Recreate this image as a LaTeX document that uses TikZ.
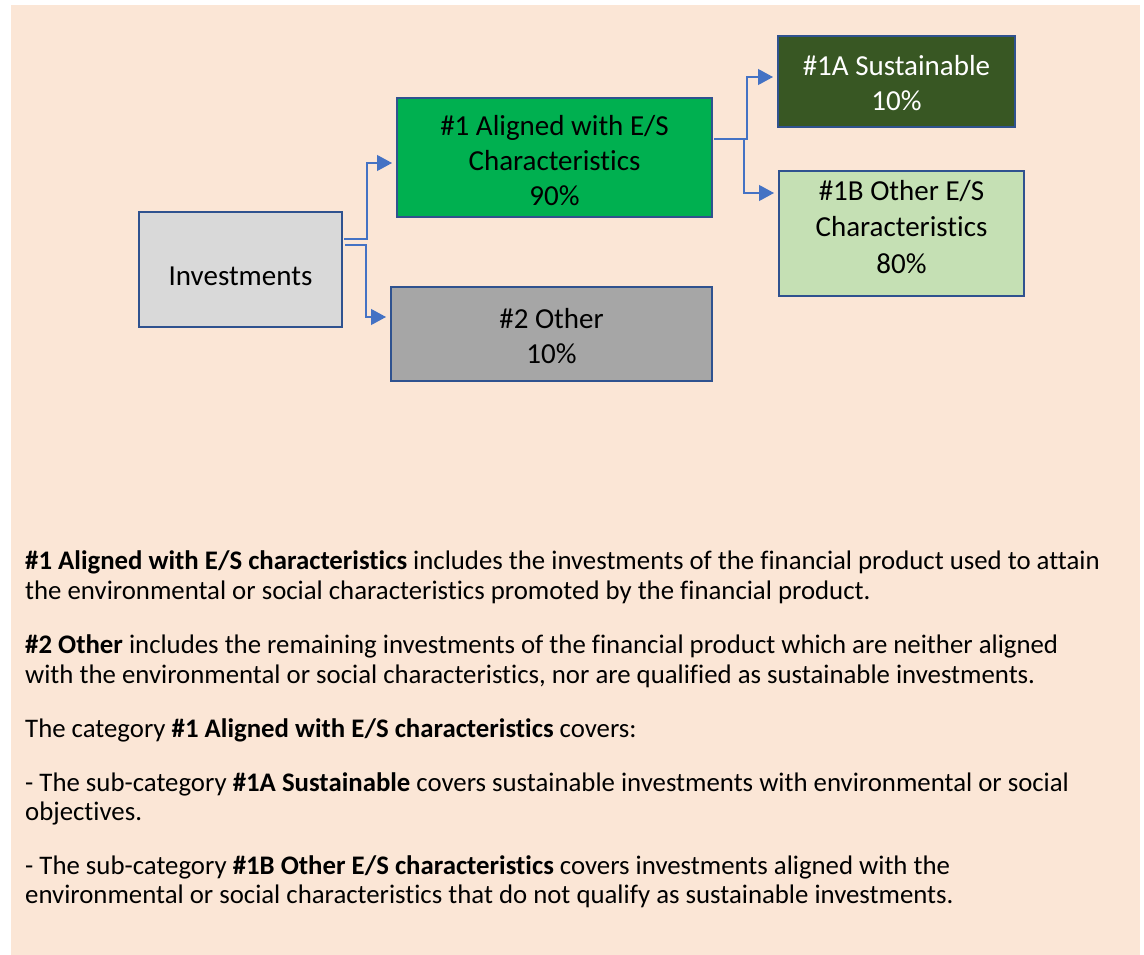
\documentclass[tikz,border=0pt]{standalone}
\usepackage{fontspec}
\setmainfont{Carlito}[Ligatures=NoCommon]
\usetikzlibrary{arrows.meta,calc}
\definecolor{bgc}{HTML}{FBE6D6}
\definecolor{bordc}{HTML}{2F528F}
\definecolor{arrc}{HTML}{4472C4}
\definecolor{greyL}{HTML}{D9D9D9}
\definecolor{greyD}{HTML}{A6A6A6}
\definecolor{greenM}{HTML}{00B050}
\definecolor{greenD}{HTML}{385723}
\definecolor{greenL}{HTML}{C5E0B4}
\newcommand{\bt}[2]{\raisebox{#1}[\height][\depth]{\begin{tabular}{@{}c@{}}#2\end{tabular}}}
\tikzset{
  box/.style={draw=bordc, line width=2pt, inner sep=0pt, align=center,
    font=\fontsize{29}{35}\selectfont, text=black},
  conn/.style={draw=arrc, line width=1.2pt, -{Triangle[length=15pt,width=16pt]}, shorten >=4pt},
  body/.style={anchor=base west, inner sep=0pt, font=\fontsize{26.8}{30}\selectfont, text=black}
}
\begin{document}
\begin{tikzpicture}[x=1pt,y=-1pt]
\useasboundingbox (0,0) rectangle (1144,955);
\fill[bgc] (11,5) rectangle (1140,955);

\node[box, fill=greyL, minimum width=203, minimum height=115] (inv) at (240.5,269.5) {\bt{-9pt}{Investments}};
\node[box, fill=greenM, minimum width=315, minimum height=119] (a1) at (554.5,157.5) {\bt{-6pt}{\#1 Aligned with E/S\\Characteristics\\90\%}};
\node[box, fill=greyD, minimum width=321, minimum height=94] (o2) at (551.5,334) {\bt{-5pt}{\#2 Other\\10\%}};
\node[box, fill=greenD, text=white, minimum width=237, minimum height=91] (s1a) at (896.5,81.5) {\bt{-5pt}{\#1A Sustainable\\10\%}};
\node[box, fill=greenL, minimum width=245, minimum height=125, font=\fontsize{29}{36.5}\selectfont] (s1b) at (901.5,233.5) {\bt{4pt}{\#1B Other E/S\\Characteristics\\80\%}};

\draw[conn] ($(inv.north east)+(1,28)$) -- ++(23,0) |- ($(a1.west)+(0,5.5)$);
\draw[conn] ($(inv.north east)+(2,34)$) -- ++(21,0) |- ($(o2.west)+(0,-17)$);
\draw[conn] ($(a1.north east)+(1,42)$) -- ++(33,0) |- ($(s1a.west)+(0,-4.5)$);
\draw[conn] ($(a1.north east)+(1,42)$) -- ++(30,0) |- ($(s1b.west)+(0,-40.5)$);

\node[body] (p1a) at (25,569) {\textbf{\#1 Aligned with E/S characteristics} includes the investments of the financial product used to attain};
\node[body] (p1b) at (25,599) {the environmental or social characteristics promoted by the financial product.};
\node[body] (p2a) at (25,653) {\textbf{\#2 Other} includes the remaining investments of the financial product which are neither aligned};
\node[body] (p2b) at (25,683) {with the environmental or social characteristics, nor are qualified as sustainable investments.};
\node[body] (p3a) at (25,737) {The category \textbf{\#1 Aligned with E/S characteristics} covers:};
\node[body] (p4a) at (25,791) {- The sub-category \textbf{\#1A Sustainable} covers sustainable investments with environmental or social};
\node[body] (p4b) at (25,820) {objectives.};
\node[body] (p5a) at (25,874) {- The sub-category \textbf{\#1B Other E/S characteristics} covers investments aligned with the};
\node[body] (p5b) at (25,903) {environmental or social characteristics that do not qualify as sustainable investments.};
\end{tikzpicture}
\end{document}
